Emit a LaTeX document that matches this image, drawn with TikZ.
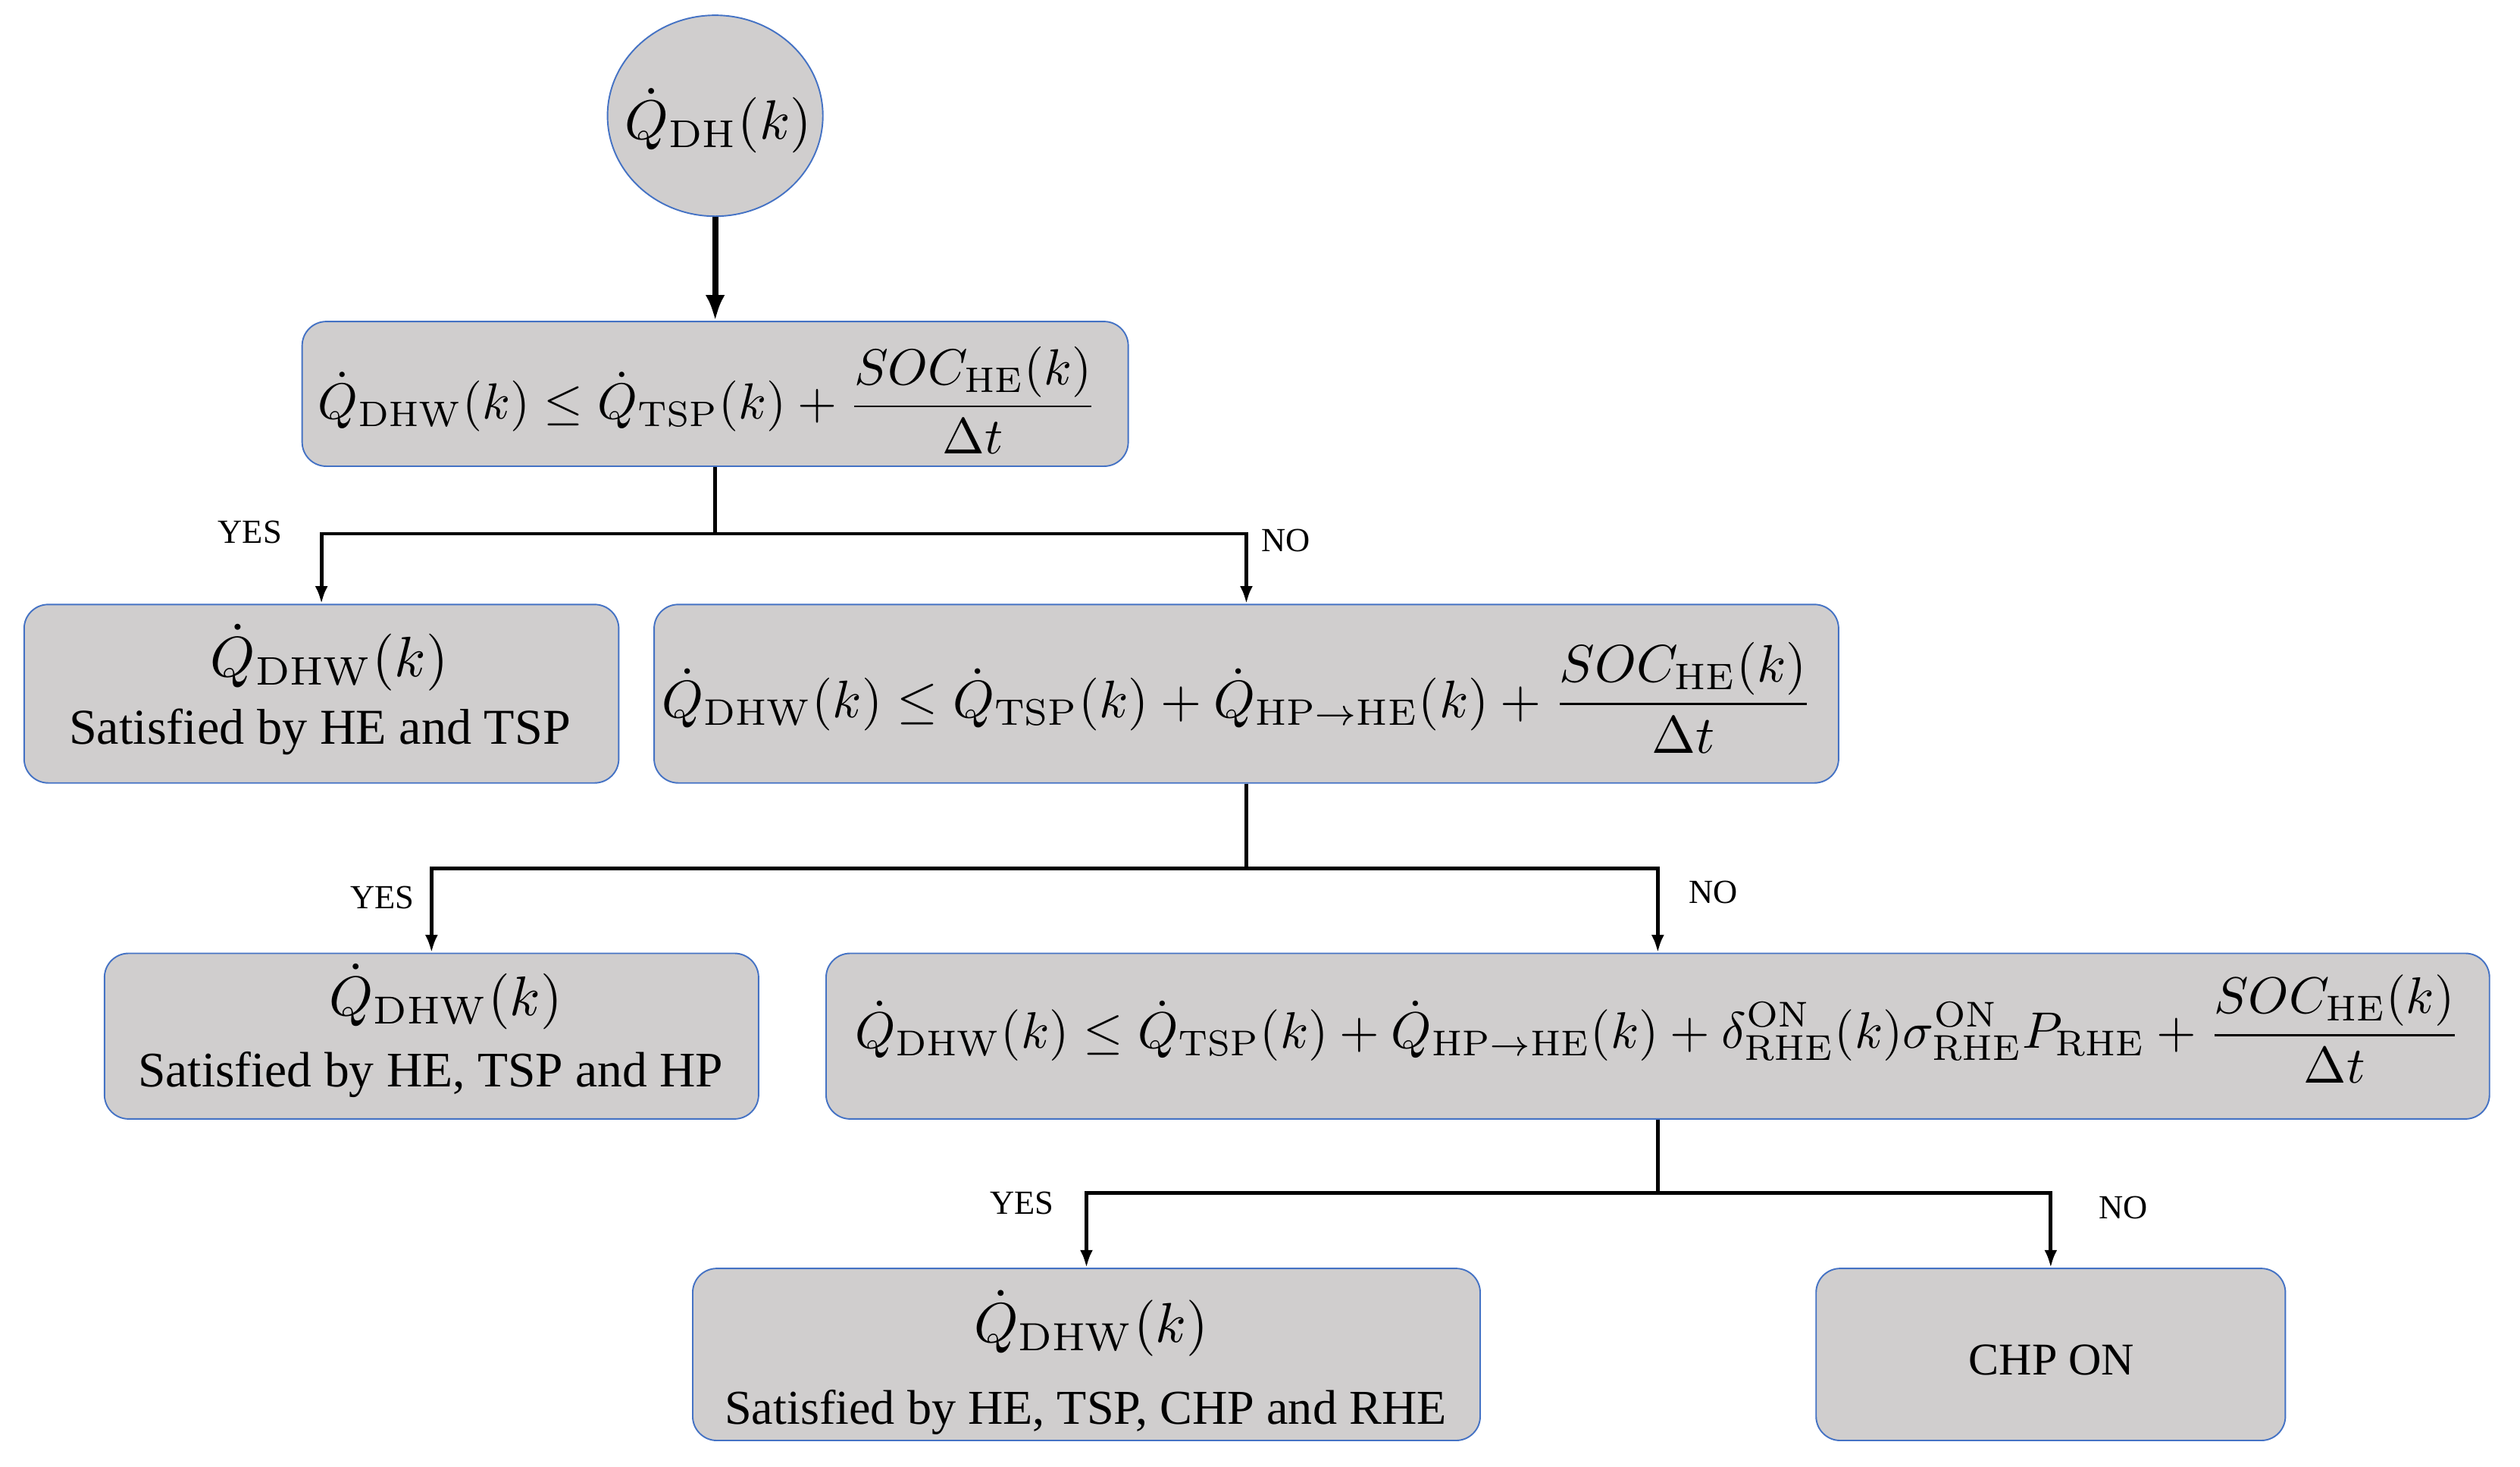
\documentclass[tikz,border=0pt]{standalone}
\usepackage[no-math]{fontspec}
\usepackage{amsmath}
\usepackage{graphicx}
\newfontfamily\cmb{Liberation Serif}
\usetikzlibrary{arrows.meta,shapes.geometric}
\definecolor{boxfill}{HTML}{D0CECE}
\definecolor{boxline}{HTML}{4472C4}
\tikzset{
  box/.style={draw=boxline, fill=boxfill, line width=0.9pt, rounded corners=15pt, inner sep=0pt},
  circ/.style={ellipse, draw=boxline, fill=boxfill, line width=0.9pt, inner sep=0pt},
  cont/.style={inner sep=0pt, outer sep=0pt},
  conn/.style={line width=2.3pt, -{Latex[length=11pt,width=8pt]}},
  plain/.style={line width=2.3pt},
  thickarr/.style={line width=3.8pt, -{Latex[length=16pt,width=12pt]}},
  lab/.style={inner sep=0pt, anchor=base, font=\cmb\fontsize{21}{25}\selectfont},
}
\begin{document}
\begin{tikzpicture}[x=1pt,y=-1pt]
\useasboundingbox (0,0) rectangle (1568,912.5);
% boxes
\node[circ, minimum width=134pt, minimum height=125pt] (c0) at (445,72) {};
\node[box, minimum width=514pt, minimum height=90pt] (b1) at (445,245) {};
\node[box, minimum width=370pt, minimum height=111pt] (b2) at (200,431.5) {};
\node[box, minimum width=737pt, minimum height=111pt] (b3) at (775.5,431.5) {};
\node[box, minimum width=407pt, minimum height=103pt] (b4) at (268.5,644.5) {};
\node[box, minimum width=1035pt, minimum height=103pt] (b5) at (1031.5,644.5) {};
\node[box, minimum width=490pt, minimum height=107pt] (b6) at (676,842.5) {};
\node[box, minimum width=292pt, minimum height=107pt] (b7) at (1276,842.5) {};
% contents
\node[cont] (c0m) at (447,75) {\resizebox{116pt}{!}{$\dot Q_{\mathrm{DH}}(k)$}};
\node[cont] (b1m) at (440.5,249) {\resizebox{485pt}{!}{$\displaystyle \dot Q_{\mathrm{DHW}}(k)\le \dot Q_{\mathrm{TSP}}(k)+\frac{SOC_{\mathrm{HE}}(k)}{\Delta t}$}};
\node[cont] (b2m) at (205,409) {\resizebox{148pt}{!}{$\dot Q_{\mathrm{DHW}}(k)$}};
\node[cont, anchor=base] (b2t) at (199,463) {\resizebox{312pt}{!}{\cmb Satisfied by HE and TSP}};
\node[cont] (b3m) at (770,434) {\resizebox{716pt}{!}{$\displaystyle \dot Q_{\mathrm{DHW}}(k)\le \dot Q_{\mathrm{TSP}}(k)+\dot Q_{\mathrm{HP}\rightarrow\mathrm{HE}}(k)+\frac{SOC_{\mathrm{HE}}(k)}{\Delta t}$}};
\node[cont] (b4m) at (277.5,620) {\resizebox{145pt}{!}{$\dot Q_{\mathrm{DHW}}(k)$}};
\node[cont, anchor=base] (b4t) at (268,676) {\resizebox{364pt}{!}{\cmb Satisfied by HE, TSP and HP}};
\node[cont] (b5m) at (1031.5,640) {\resizebox{999pt}{!}{$\displaystyle \dot Q_{\mathrm{DHW}}(k)\le \dot Q_{\mathrm{TSP}}(k)+\dot Q_{\mathrm{HP}\rightarrow\mathrm{HE}}(k)+\delta^{\mathrm{ON}}_{\mathrm{RHE}}(k)\sigma^{\mathrm{ON}}_{\mathrm{RHE}}P_{\mathrm{RHE}}+\frac{SOC_{\mathrm{HE}}(k)}{\Delta t}$}};
\node[cont] (b6m) at (679,823) {\resizebox{146pt}{!}{$\dot Q_{\mathrm{DHW}}(k)$}};
\node[cont, anchor=base] (b6t) at (675.5,886) {\resizebox{449pt}{!}{\cmb Satisfied by HE, TSP, CHP and RHE}};
\node[cont, anchor=base] (b7t) at (1276.5,855) {\resizebox{103pt}{!}{\cmb CHP ON}};
% connectors
\draw[thickarr] (c0) -- (b1);
\coordinate (j1) at (445,332);
\coordinate (j2) at (775.5,540);
\coordinate (j3) at (1031.5,742);
\draw[plain] (b1.south) -- (j1);
\draw[conn] (j1) -| (b2);
\draw[conn] (j1) -| (b3);
\draw[plain] (b3.south) -- (j2);
\draw[conn] (j2) -| (b4);
\draw[conn] (j2) -| (b5);
\draw[plain] (b5.south) -- (j3);
\draw[conn] (j3) -| (b6);
\draw[conn] (j3) -| (b7);
% labels
\node[lab] (y1) at (155.5,338) {YES};
\node[lab] (n1) at (800,343) {NO};
\node[lab] (y2) at (238,565) {YES};
\node[lab] (n2) at (1066,562) {NO};
\node[lab] (y3) at (636,755) {YES};
\node[lab] (n3) at (1321,758) {NO};
\end{tikzpicture}
\end{document}
